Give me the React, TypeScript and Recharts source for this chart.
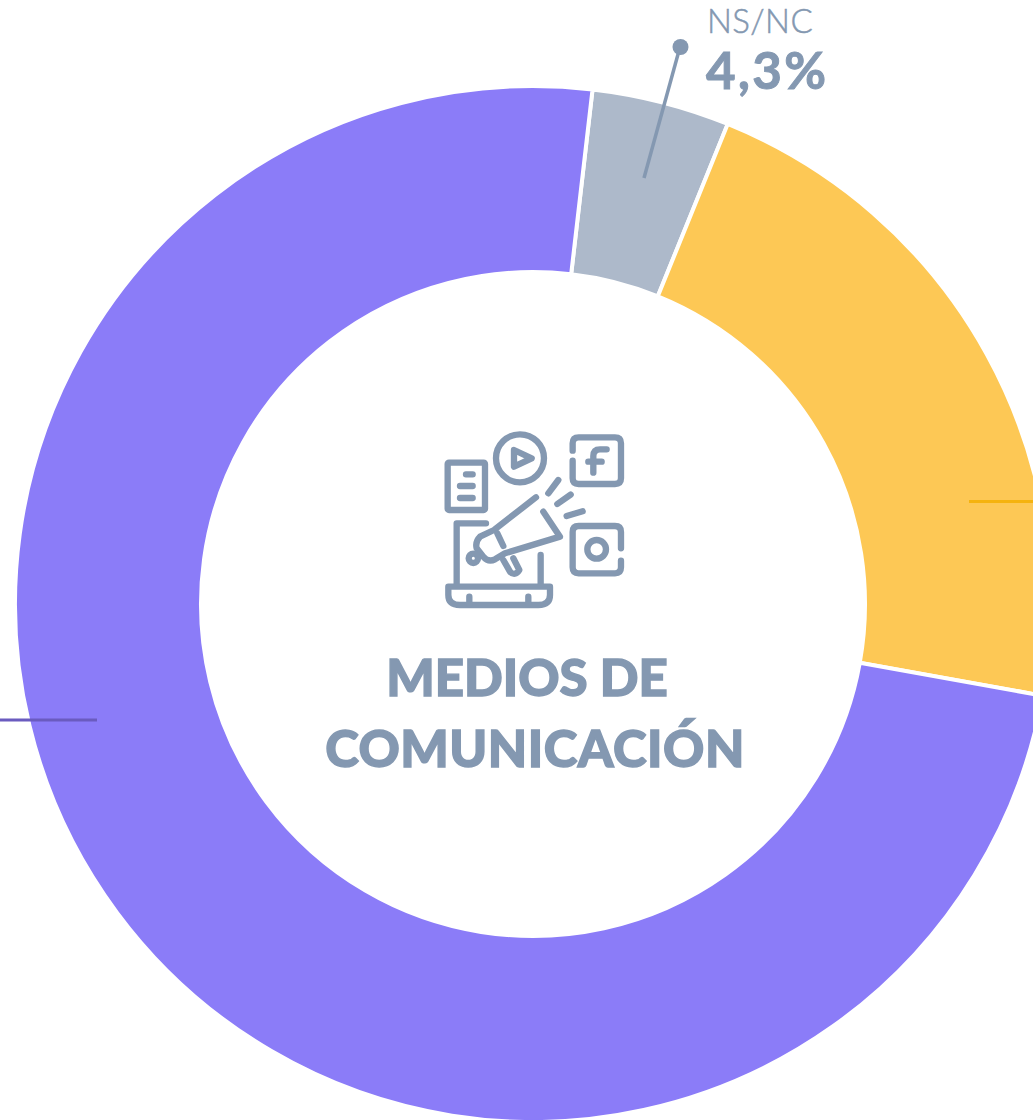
import { Cell, Pie, PieChart } from "recharts";

const categories = ["NS/NC", "Sí", "No"];
const values = [4.3, 21.7, 74];
const colors = ["#adb9ca", "#fdc855", "#8b7cf8"];
const titleLines = ["MEDIOS DE", "COMUNICACIÓN"];

const data = categories.map((name, i) => ({ name, value: values[i] }));
const INK = "#8498b1";

function MediaIcon() {
  return (
    <g transform="translate(420 420) scale(0.3333)" fill="none" stroke={INK} strokeWidth={19} strokeLinecap="round" strokeLinejoin="round">
      <circle cx={300} cy={115} r={72} />
      <path d="M282 90 L335 115 L282 140 Z" />
      <path d="M458 92 V70 Q458 52 476 52 H585 Q603 52 603 70 V175 Q603 192 585 192 H476 Q458 192 458 175 V122" />
      <path d="M560 88 H540 Q520 88 520 108 V158 M505 125 H545" />
      <rect x={83} y={128} width={112} height={142} rx={4} />
      <path d="M138 163 H158 M120 198 H158 M120 234 H158" />
      <path d="M603 385 V336 Q603 318 585 318 H476 Q458 318 458 336 V442 Q458 460 476 460 H585 Q603 460 603 442 V422" />
      <circle cx={530} cy={388} r={28} />
      <path d="M385 220 L415 180 M412 252 L452 224 M440 288 L488 274" />
      <path d="M348 232 L222 330 L180 350 Q165 365 170 385 L190 410 Q205 428 225 418 L255 400 L420 350 L370 275" />
      <path d="M232 340 L250 378" />
      <circle cx={160} cy={415} r={14} />
      <path d="M250 420 L270 455 Q285 470 298 450 L280 415" />
      <path d="M198 310 H110 V492 M362 405 V492" />
      <path d="M85 500 H390 V525 Q390 555 355 555 H120 Q85 555 85 525 Z" />
      <path d="M148 530 V552 M325 530 V552" />
    </g>
  );
}

export default function App() {
  return (
    <div style={{ position: "absolute", left: 0, top: 0, width: 1033, height: 1120, overflow: "hidden", background: "#fff" }}>
      <PieChart width={1033} height={1120} margin={{ top: 0, right: 0, bottom: 0, left: 0 }}>
        <Pie
          data={data}
          dataKey="value"
          cx={533}
          cy={604}
          innerRadius={332}
          outerRadius={518}
          startAngle={83.4}
          endAngle={-276.6}
          stroke="#ffffff"
          strokeWidth={4}
          isAnimationActive={false}
        >
          {data.map((d, i) => (
            <Cell key={d.name} fill={colors[i]} />
          ))}
        </Pie>
      </PieChart>
      {/* leader lines, icon and captions sit above the slices */}
      <svg width={1033} height={1120} style={{ position: "absolute", left: 0, top: 0 }}>
        <line x1={644} y1={178} x2={680} y2={47} stroke={INK} strokeWidth={3.5} />
        <circle cx={680.5} cy={47} r={8} fill={INK} />
        <line x1={969} y1={501.5} x2={1033} y2={501.5} stroke="#f5b30f" strokeWidth={3} />
        <line x1={0} y1={720} x2={97} y2={720} stroke="#6a5bbf" strokeWidth={3} />
        <text x={707} y={32.5} fill={INK} stroke={INK} strokeWidth={0.5} letterSpacing={0.4} fontFamily="Lato" fontWeight={300} fontSize={33}>
          {categories[0]}
        </text>
        <text x={706} y={88.5} fill={INK} stroke={INK} strokeWidth={1} letterSpacing={2.4} fontFamily="Lato" fontWeight={700} fontSize={51}>
          4,3%
        </text>
        <MediaIcon />
        <text x={527} y={696} textAnchor="middle" fill={INK} stroke={INK} strokeWidth={1.4} fontFamily="Lato" fontWeight={900} fontSize={51}>
          {titleLines[0]}
        </text>
        <text x={535} y={767} textAnchor="middle" fill={INK} stroke={INK} strokeWidth={1.4} letterSpacing={0.5} fontFamily="Lato" fontWeight={900} fontSize={51}>
          {titleLines[1]}
        </text>
      </svg>
    </div>
  );
}
